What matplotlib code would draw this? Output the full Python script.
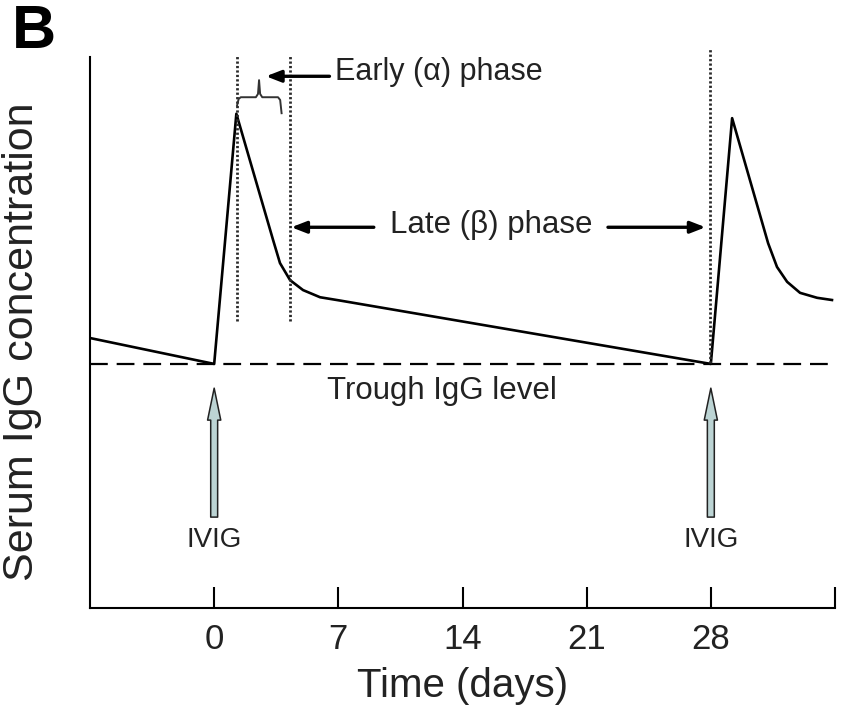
import matplotlib
matplotlib.use("Agg")
import matplotlib.pyplot as plt

plt.rcParams['font.family'] = ['Liberation Sans', 'DejaVu Sans']

# Serum IgG curve (days, relative concentration)
days = [-7.0, 0.0, 1.25, 3.32, 3.71, 4.28, 5.01, 5.97, 7.10,
        28.0, 29.2, 31.23, 31.73, 32.3, 33.03, 33.99, 34.83]
conc = [49.0, 44.3, 89.7, 66.8, 62.6, 59.5, 57.7, 56.4, 55.8,
        44.3, 88.9, 66.2, 61.9, 59.2, 57.2, 56.3, 55.9]

trough = 44.3
infusion_days = [0, 28]
tick_days = [0, 7, 14, 21, 28, 35]
tick_labels = ['0', '7', '14', '21', '28', '']

# phase boundaries (dotted lines): day, bottom, top
phase_lines = [(1.3, 52.0, 100.4), (4.3, 52.0, 100.4), (27.95, 44.5, 101.6)]

# brace over early phase
brace_x = [1.29, 1.38, 1.5, 2.35, 2.47, 2.53, 2.59, 2.71, 3.6, 3.72, 3.8]
brace_y = [91.2, 92.4, 92.7, 92.7, 93.3, 95.8, 93.3, 92.7, 92.7, 92.2, 89.8]

fig = plt.figure(figsize=(8.46, 7.28), dpi=100)
ax = fig.add_axes([0.1064, 0.1648, 0.8806, 0.7569])

ax.plot(days, conc, color='black', lw=1.9, solid_joinstyle='round')
ax.axhline(trough, color='black', lw=1.6, dashes=(8, 4))

for x, y0, y1 in phase_lines:
    ax.plot([x, x], [y0, y1], color='#2a2a2a', lw=2.0,
            linestyle=(0, (0.8, 0.8)), clip_on=False)

ax.plot(brace_x, brace_y, color='#333333', lw=1.4)

# Early / late phase labels
txt_col = '#222222'
arrow_kw = dict(arrowstyle='-|>,head_length=0.9,head_width=0.35',
                color='black', lw=2.4, shrinkA=0, shrinkB=0)
ax.annotate('', xy=(2.92, 96.5), xytext=(6.5, 96.5), arrowprops=arrow_kw)
ax.text(6.8, 97.2, 'Early (\u03b1) phase', fontsize=22, color=txt_col,
        ha='left', va='center')

ax.annotate('', xy=(4.35, 69.1), xytext=(9.0, 69.1), arrowprops=arrow_kw)
ax.annotate('', xy=(27.7, 69.1), xytext=(22.2, 69.1), arrowprops=arrow_kw)
ax.text(15.6, 69.6, 'Late (\u03b2) phase', fontsize=22.5, color=txt_col,
        ha='center', va='center')

ax.text(12.85, 39.4, 'Trough IgG level', fontsize=22.5, color=txt_col,
        ha='center', va='center')

# IVIG infusions
for d in infusion_days:
    ax.annotate('', xy=(d, 39.9), xytext=(d, 16.5),
                arrowprops=dict(arrowstyle='simple,head_length=2.3,head_width=0.95,tail_width=0.5',
                                fc='#bcd4d4', ec='#222222', lw=1.1,
                                shrinkA=0, shrinkB=0, mutation_scale=10))
    ax.text(d, 12.4, 'IVIG', fontsize=20, color=txt_col, ha='center', va='center')

ax.set_xlim(-7, 35)
ax.set_ylim(0, 100)
ax.set_xticks(tick_days)
ax.set_xticklabels(tick_labels)
ax.set_yticks([])
ax.tick_params(axis='x', direction='in', length=15, width=1.5, pad=11,
               labelsize=25, labelcolor=txt_col)
for s in ['top', 'right']:
    ax.spines[s].set_visible(False)
ax.spines['left'].set_linewidth(1.5)
ax.spines['bottom'].set_linewidth(1.5)

ax.set_xlabel('Time (days)', fontsize=29, color=txt_col)
ax.xaxis.set_label_coords(0.5, -0.107)
ax.set_ylabel('Serum IgG concentration', fontsize=31, color=txt_col)
ax.yaxis.set_label_coords(-0.064, 0.483)

fig.text(12 / 846, 1 - 4 / 728, 'B', fontsize=44, fontweight='bold',
         ha='left', va='top')

fig.savefig('out.png', dpi=100)
